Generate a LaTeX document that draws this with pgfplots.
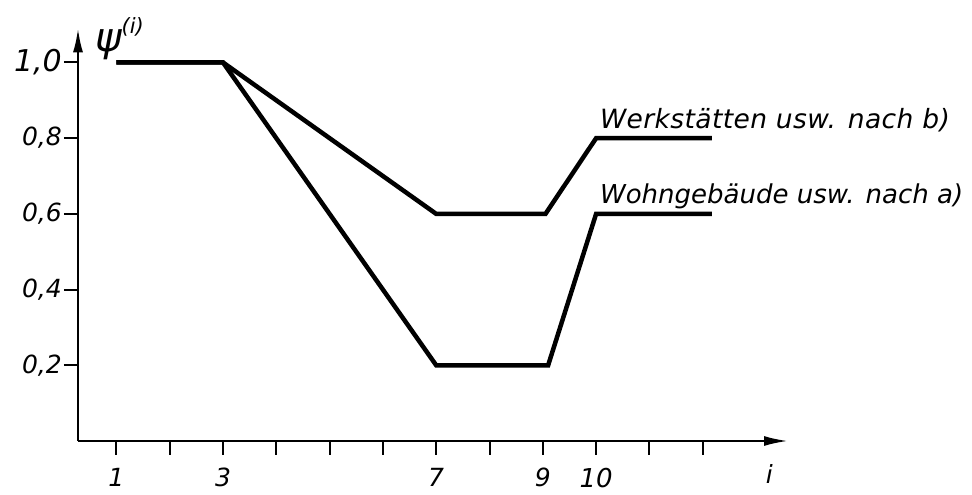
\documentclass[border=0pt]{standalone}
\usepackage{pgfplots}
\pgfplotsset{compat=1.18}
\usetikzlibrary{arrows.meta}
\usepackage{fontspec}
\setmainfont{DejaVu Sans}
\begin{document}
\begin{tikzpicture}
\begin{axis}[
  name=ax,
  scale only axis,
  width=710bp, height=412.6bp,
  xmin=0.28, xmax=13.6, ymin=0, ymax=1.09,
  axis lines=left,
  axis line style={line width=2.3bp, -{Latex[length=24bp,width=10bp]}},
  clip=false,
  tick align=outside,
  major tick length=14bp,
  tick style={line width=2bp, black},
  xtick={1,2,3,4,5,6,7,8,9,10,11,12},
  xticklabels={1,,3,,,,7,,9,{\fontsize{26bp}{26bp}\selectfont 10},,},
  ytick={0.2,0.4,0.6,0.8,1.0},
  yticklabels={{0,2},{0,4},{0,6},{0,8},{\fontsize{30bp}{30bp}\selectfont 1,0}},
  ticklabel style={font=\fontsize{25bp}{28bp}\selectfont\itshape},
  yticklabel style={inner sep=0pt, xshift=-2bp},
  xticklabel style={inner sep=0pt, yshift=-13bp},
]
\addplot[line width=4.5bp, black] coordinates {(1,1) (3,1) (7,0.6) (9.05,0.6) (10,0.8) (12.17,0.8)};
\addplot[line width=4.5bp, black] coordinates {(1,1) (3,1) (7,0.2) (9.1,0.2) (10,0.6) (12.17,0.6)};
\node[anchor=base west, inner sep=0pt, font=\fontsize{26.5bp}{28bp}\selectfont\itshape\addfontfeatures{LetterSpace=1.5}] at (axis cs:10.07,0.8) [yshift=10bp] {Werkstätten usw. nach b)};
\node[anchor=base west, inner sep=0pt, font=\fontsize{26bp}{28bp}\selectfont\itshape] at (axis cs:10.07,0.6) [yshift=10bp] {Wohngebäude usw. nach a)};
\node[anchor=base west, inner sep=0pt] at (axis cs:0.6,1.03) {{\fontsize{40bp}{40bp}\selectfont\itshape ψ}\raisebox{18bp}{\fontsize{21bp}{21bp}\selectfont\itshape (i)}};
\node[anchor=base, inner sep=0pt, font=\fontsize{25bp}{28bp}\selectfont\itshape] at (axis cs:13.25,-0.111) {i};
\end{axis}
\pgfresetboundingbox
\path[use as bounding box] (ax.south west) ++(-78bp,-54bp) rectangle ++(972bp,495bp);
\end{tikzpicture}
\end{document}
